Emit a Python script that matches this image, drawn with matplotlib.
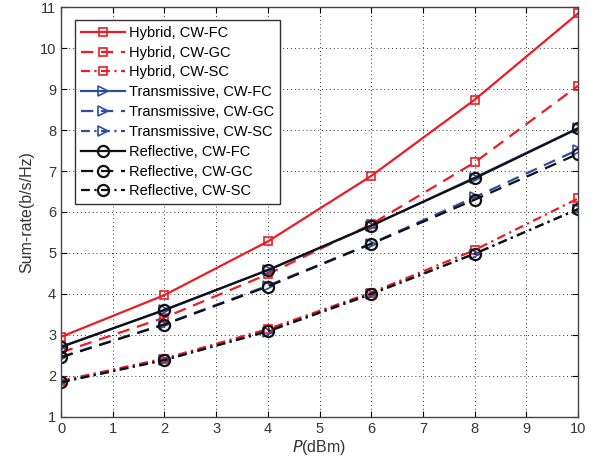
import numpy as np
import matplotlib
matplotlib.use('Agg')
from matplotlib import pyplot as plt

plt.rcParams['font.family'] = ['Liberation Sans', 'DejaVu Sans']

# 发射功率 (dBm)
power = [0, 2, 4, 6, 8, 10]

hybrid_fc = [2.95, 3.97, 5.28, 6.88, 8.74, 10.85]
hybrid_gc = [2.57, 3.42, 4.48, 5.70, 7.21, 9.08]
hybrid_sc = [1.88, 2.42, 3.14, 4.03, 5.07, 6.33]
trans_fc = [2.71, 3.60, 4.58, 5.66, 6.84, 8.05]
trans_gc = [2.46, 3.26, 4.20, 5.23, 6.36, 7.52]
trans_sc = [1.85, 2.39, 3.08, 3.99, 4.98, 6.07]
refl_fc = [2.70, 3.61, 4.58, 5.67, 6.82, 8.04]
refl_gc = [2.45, 3.25, 4.18, 5.22, 6.30, 7.42]
refl_sc = [1.84, 2.38, 3.09, 4.00, 4.98, 6.07]

red = '#ec1c24'
blue = '#2c4da0'
black = '#111111'

dash = (0, (5.5, 3.5))
dashdot = (0, (4, 2, 1, 2))

series = [
    (hybrid_fc, red, '-', 's', 'Hybrid, CW-FC'),
    (hybrid_gc, red, dash, 's', 'Hybrid, CW-GC'),
    (hybrid_sc, red, dashdot, 's', 'Hybrid, CW-SC'),
    (trans_fc, blue, '-', '>', 'Transmissive, CW-FC'),
    (trans_gc, blue, dash, '>', 'Transmissive, CW-GC'),
    (trans_sc, blue, dashdot, '>', 'Transmissive, CW-SC'),
    (refl_fc, black, '-', 'o', 'Reflective, CW-FC'),
    (refl_gc, black, dash, 'o', 'Reflective, CW-GC'),
    (refl_sc, black, dashdot, 'o', 'Reflective, CW-SC'),
]

fig = plt.figure(figsize=(5.95, 4.68), dpi=100)
ax = fig.add_axes([61 / 595, 1 - 416.7 / 468, 517 / 595, 409.4 / 468])

for y, c, ls, m, lab in series:
    ms = {'s': 6, '>': 6.5, 'o': 8}[m]
    mew = 1.2 if m != 'o' else 1.6
    ax.plot(power, y, color=c, linestyle=ls, marker=m, markersize=ms,
            markerfacecolor='none', markeredgewidth=mew, linewidth=1.6, label=lab)

ax.set_xlim(0, 10)
ax.set_ylim(1, 11)
ax.set_xticks(range(0, 11))
ax.set_yticks(range(1, 12))
ax.grid(True, linestyle=(0, (1, 3)), color='#333333', linewidth=0.7)
ax.tick_params(direction='in', top=True, right=True, labelsize=10.5,
               labelcolor='#333333', length=4)
for s in ax.spines.values():
    s.set_color('#444444')
    s.set_linewidth(1.0)

ax.set_xlabel('$\\it{P}$(dBm)', fontsize=11.5, color='#333333', labelpad=2)
ax.set_ylabel('Sum-rate(b/s/Hz)', fontsize=11.5, color='#333333', labelpad=4)

leg = ax.legend(loc='upper left', bbox_to_anchor=(14 / 517, 1 - 12.7 / 409.4),
                fontsize=10.5, frameon=True, fancybox=False, framealpha=1,
                edgecolor='#333333', borderaxespad=0, handlelength=3.0,
                handletextpad=0.3, labelspacing=0.4, borderpad=0.4)
leg.get_frame().set_linewidth(1.0)

plt.savefig('out.png', dpi=100)
